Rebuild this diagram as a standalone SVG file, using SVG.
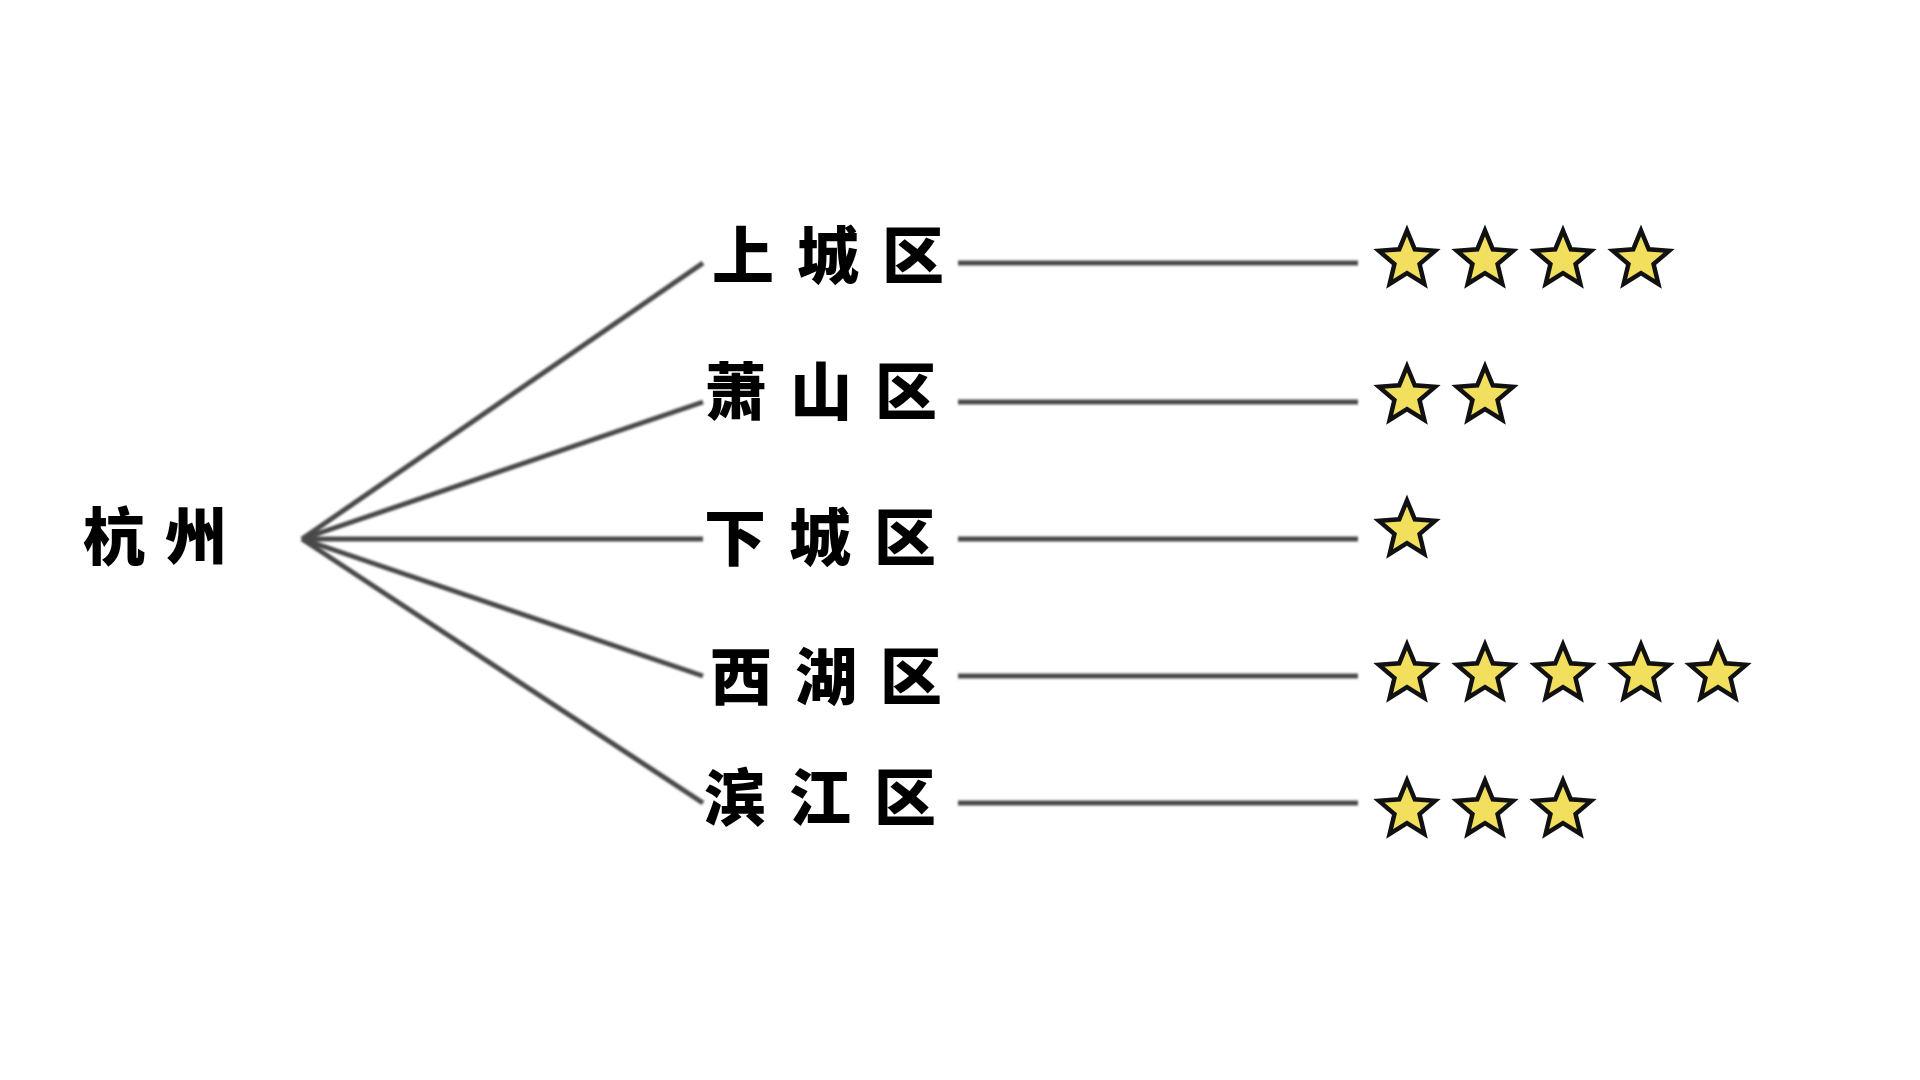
<svg xmlns="http://www.w3.org/2000/svg" xmlns:xlink="http://www.w3.org/1999/xlink" width="1920" height="1080" viewBox="0 0 1920 1080">
<style>
.lbl{font-family:"Noto Sans CJK SC","Noto Sans CJK JP",sans-serif;font-weight:900;font-size:62px;fill:#000;letter-spacing:23px}
.conn{stroke:#4a4a4a;stroke-width:5;fill:none;stroke-linecap:butt}
.star{fill:#F2DF5E;stroke:#111;stroke-width:4.5;stroke-linejoin:miter}
</style>
<defs>
<filter id="soft" x="-5%" y="-5%" width="110%" height="110%"><feGaussianBlur stdDeviation="0.9"/></filter>
<path id="star" d="M0,-29.5 L7.77,-10.7 L28.06,-9.12 L12.57,4.09 L17.34,23.87 L0,13.2 L-17.34,23.87 L-12.57,4.09 L-28.06,-9.12 L-7.77,-10.7 Z"/>
</defs>
<rect width="1920" height="1080" fill="#fff"/>
<g id="connectors" filter="url(#soft)">
<line class="conn" x1="302" y1="539" x2="703" y2="263"/>
<line class="conn" x1="302" y1="539" x2="703" y2="402"/>
<line class="conn" x1="302" y1="539" x2="703" y2="539"/>
<line class="conn" x1="302" y1="539" x2="703" y2="676"/>
<line class="conn" x1="302" y1="539" x2="703" y2="803"/>
<line class="conn" x1="958" y1="263" x2="1358" y2="263"/>
<line class="conn" x1="958" y1="402" x2="1358" y2="402"/>
<line class="conn" x1="958" y1="539" x2="1358" y2="539"/>
<line class="conn" x1="958" y1="676" x2="1358" y2="676"/>
<line class="conn" x1="958" y1="803" x2="1358" y2="803"/>
</g>
<g id="hangzhou"><text class="lbl" x="83" y="560" style="letter-spacing:20px">杭州</text></g>
<g id="shangcheng"><text class="lbl" x="712" y="279">上城区</text></g>
<g id="xiaoshan"><text class="lbl" x="705" y="415">萧山区</text></g>
<g id="xiacheng"><text class="lbl" x="704" y="561">下城区</text></g>
<g id="xihu"><text class="lbl" x="710" y="700">西湖区</text></g>
<g id="binjiang"><text class="lbl" x="704" y="821">滨江区</text></g>
<g id="stars-shangcheng">
<use xlink:href="#star" class="star" x="1407" y="260"/>
<use xlink:href="#star" class="star" x="1485" y="260"/>
<use xlink:href="#star" class="star" x="1563" y="260"/>
<use xlink:href="#star" class="star" x="1641" y="260"/>
</g>
<g id="stars-xiaoshan">
<use xlink:href="#star" class="star" x="1407" y="396"/>
<use xlink:href="#star" class="star" x="1485" y="396"/>
</g>
<g id="stars-xiacheng">
<use xlink:href="#star" class="star" x="1407" y="530"/>
</g>
<g id="stars-xihu">
<use xlink:href="#star" class="star" x="1407" y="674"/>
<use xlink:href="#star" class="star" x="1485" y="674"/>
<use xlink:href="#star" class="star" x="1563" y="674"/>
<use xlink:href="#star" class="star" x="1641" y="674"/>
<use xlink:href="#star" class="star" x="1718" y="674"/>
</g>
<g id="stars-binjiang">
<use xlink:href="#star" class="star" x="1407" y="810"/>
<use xlink:href="#star" class="star" x="1485" y="810"/>
<use xlink:href="#star" class="star" x="1563" y="810"/>
</g>
</svg>
